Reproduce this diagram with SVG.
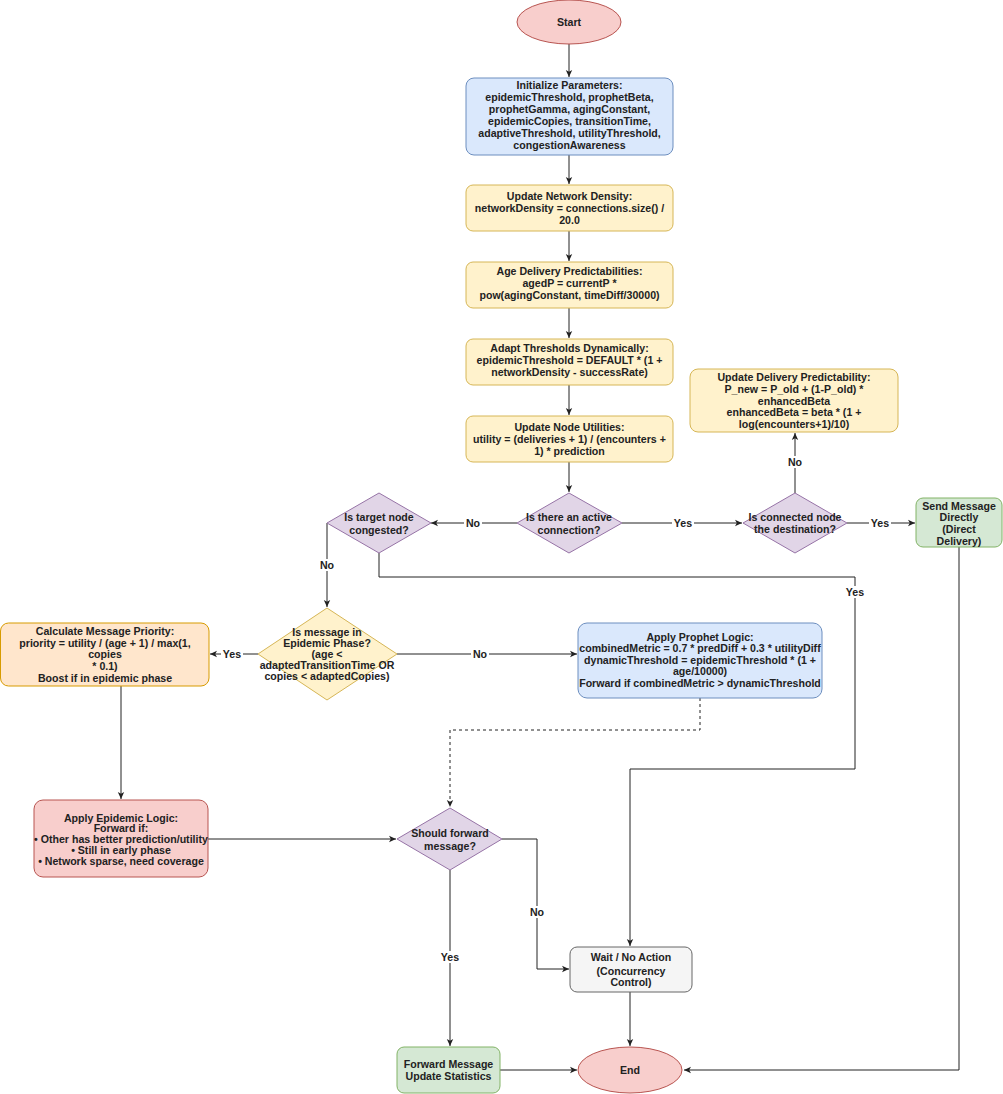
<svg xmlns="http://www.w3.org/2000/svg" width="1003" height="1094" viewBox="0 0 1003 1094">
<style>
text{font-family:"Liberation Sans",Arial,sans-serif;font-size:10.6px;font-weight:bold;fill:#222;text-anchor:middle}
.ln{fill:none;stroke:#222;stroke-width:1}
.dash{stroke-dasharray:3 3}
.blue{fill:#dae8fc;stroke:#6c8ebf}
.yel{fill:#fff2cc;stroke:#d6b656}
.pur{fill:#e1d5e7;stroke:#9673a6}
.org{fill:#ffe6cc;stroke:#d79b00}
.red{fill:#f8cecc;stroke:#b85450}
.grn{fill:#d5e8d4;stroke:#82b366}
.gry{fill:#f5f5f5;stroke:#666666}
.lb{fill:#fff}
</style>
<defs>
<marker id="ar" viewBox="0 0 8 8" refX="7" refY="4" markerWidth="8" markerHeight="8" orient="auto" markerUnits="userSpaceOnUse">
<path d="M0,0.8 L7,4 L0,7.2 L1.8,4 Z" fill="#222"/>
</marker>
</defs>

<g id="connectors">
<path class="ln" d="M569,44 V77" marker-end="url(#ar)"/>
<path class="ln" d="M569,155 V184" marker-end="url(#ar)"/>
<path class="ln" d="M569,231 V261" marker-end="url(#ar)"/>
<path class="ln" d="M569,308 V338" marker-end="url(#ar)"/>
<path class="ln" d="M569,385 V415" marker-end="url(#ar)"/>
<path class="ln" d="M569,462 V492" marker-end="url(#ar)"/>
<path class="ln" d="M517,523 H431" marker-end="url(#ar)"/>
<path class="ln" d="M622,523 H742" marker-end="url(#ar)"/>
<path class="ln" d="M847,523 H915" marker-end="url(#ar)"/>
<path class="ln" d="M795,493 V433" marker-end="url(#ar)"/>
<path class="ln" d="M327,523 V607" marker-end="url(#ar)"/>
<path class="ln" d="M379,553 V577 H855 V769 H630 V946" marker-end="url(#ar)"/>
<path class="ln" d="M959,547 V1070 H684" marker-end="url(#ar)"/>
<path class="ln" d="M258,654 H210" marker-end="url(#ar)"/>
<path class="ln" d="M397,654 H577" marker-end="url(#ar)"/>
<path class="ln" d="M121,686 V799" marker-end="url(#ar)"/>
<path class="ln dash" d="M700,698 V730 H450 V807" marker-end="url(#ar)"/>
<path class="ln" d="M208,839 H396" marker-end="url(#ar)"/>
<path class="ln" d="M502,839 H537 V969 H569" marker-end="url(#ar)"/>
<path class="ln" d="M450,870 V1046" marker-end="url(#ar)"/>
<path class="ln" d="M630,992 V1046" marker-end="url(#ar)"/>
<path class="ln" d="M500,1070 H577" marker-end="url(#ar)"/>
<g id="edge-labels">
<rect class="lb" x="464" y="517" width="18" height="12"/><text x="473" y="527">No</text>
<rect class="lb" x="672" y="517" width="22" height="12"/><text x="683" y="527">Yes</text>
<rect class="lb" x="869" y="517" width="22" height="12"/><text x="880" y="527">Yes</text>
<rect class="lb" x="786" y="456" width="18" height="12"/><text x="795" y="466">No</text>
<rect class="lb" x="318" y="559" width="18" height="12"/><text x="327" y="569">No</text>
<rect class="lb" x="844" y="586" width="22" height="12"/><text x="855" y="596">Yes</text>
<rect class="lb" x="221" y="648" width="22" height="12"/><text x="232" y="658">Yes</text>
<rect class="lb" x="471" y="648" width="18" height="12"/><text x="480" y="658">No</text>
<rect class="lb" x="528" y="906" width="18" height="12"/><text x="537" y="916">No</text>
<rect class="lb" x="439" y="951" width="22" height="12"/><text x="450" y="961">Yes</text>
</g>
</g>

<g id="start"><ellipse class="red" cx="569" cy="22" rx="52" ry="22"/><text x="569" y="26">Start</text></g>

<g id="init"><rect class="blue" x="466" y="78" width="207" height="77" rx="8"/>
<text x="569.5" y="89">Initialize Parameters:</text>
<text x="569.5" y="101">epidemicThreshold, prophetBeta,</text>
<text x="569.5" y="113">prophetGamma, agingConstant,</text>
<text x="569.5" y="125">epidemicCopies, transitionTime,</text>
<text x="569.5" y="137">adaptiveThreshold, utilityThreshold,</text>
<text x="569.5" y="149">congestionAwareness</text></g>

<g id="density"><rect class="yel" x="466" y="185" width="207" height="46" rx="7"/>
<text x="569.5" y="200">Update Network Density:</text>
<text x="569.5" y="212">networkDensity = connections.size() /</text>
<text x="569.5" y="224">20.0</text></g>

<g id="aging"><rect class="yel" x="466" y="262" width="207" height="46" rx="7"/>
<text x="569.5" y="275">Age Delivery Predictabilities:</text>
<text x="569.5" y="287">agedP = currentP *</text>
<text x="569.5" y="299">pow(agingConstant, timeDiff/30000)</text></g>

<g id="adapt"><rect class="yel" x="466" y="339" width="207" height="46" rx="7"/>
<text x="569.5" y="352">Adapt Thresholds Dynamically:</text>
<text x="569.5" y="364">epidemicThreshold = DEFAULT * (1 +</text>
<text x="569.5" y="376">networkDensity - successRate)</text></g>

<g id="utilities"><rect class="yel" x="466" y="416" width="207" height="46" rx="7"/>
<text x="569.5" y="431">Update Node Utilities:</text>
<text x="569.5" y="443">utility = (deliveries + 1) / (encounters +</text>
<text x="569.5" y="455">1) * prediction</text></g>

<g id="active"><polygon class="pur" points="569,493 622,523 569,553 517,523"/>
<text x="569" y="521">Is there an active</text>
<text x="569" y="534">connection?</text></g>

<g id="congested"><polygon class="pur" points="379,493 431,523 379,553 327,523"/>
<text x="379" y="521">Is target node</text>
<text x="379" y="534">congested?</text></g>

<g id="destination"><polygon class="pur" points="795,493 847,523 795,553 743,523"/>
<text x="795" y="521">Is connected node</text>
<text x="795" y="533">the destination?</text></g>

<g id="predictability"><rect class="yel" x="690" y="369" width="208" height="63" rx="8"/>
<text x="794" y="381">Update Delivery Predictability:</text>
<text x="794" y="393">P_new = P_old + (1-P_old) *</text>
<text x="794" y="405">enhancedBeta</text>
<text x="794" y="416">enhancedBeta = beta * (1 +</text>
<text x="794" y="428">log(encounters+1)/10)</text></g>

<g id="send"><rect class="grn" x="916" y="498" width="86" height="49" rx="7"/>
<text x="959" y="510">Send Message</text>
<text x="959" y="521">Directly</text>
<text x="959" y="533">(Direct</text>
<text x="959" y="545">Delivery)</text></g>

<g id="epidemic-phase"><polygon class="yel" points="327,608 397,654 327,700 258,654"/>
<text x="327" y="636">Is message in</text>
<text x="327" y="647">Epidemic Phase?</text>
<text x="327" y="658">(age &lt;</text>
<text x="327" y="669">adaptedTransitionTime OR</text>
<text x="327" y="680">copies &lt; adaptedCopies)</text></g>

<g id="priority"><rect class="org" x="0.5" y="623" width="208.5" height="63" rx="8"/>
<text x="105" y="635">Calculate Message Priority:</text>
<text x="105" y="647">priority = utility / (age + 1) / max(1,</text>
<text x="105" y="658">copies</text>
<text x="105" y="670">* 0.1)</text>
<text x="105" y="682">Boost if in epidemic phase</text></g>

<g id="prophet"><rect class="blue" x="578" y="623" width="244" height="75" rx="9"/>
<text x="700" y="641">Apply Prophet Logic:</text>
<text x="700" y="652">combinedMetric = 0.7 * predDiff + 0.3 * utilityDiff</text>
<text x="700" y="664">dynamicThreshold = epidemicThreshold * (1 +</text>
<text x="700" y="675">age/10000)</text>
<text x="700" y="687">Forward if combinedMetric &gt; dynamicThreshold</text></g>

<g id="epidemic-logic"><rect class="red" x="34" y="800" width="174" height="77" rx="9"/>
<text x="121" y="822">Apply Epidemic Logic:</text>
<text x="121" y="832">Forward if:</text>
<text x="121" y="843">• Other has better prediction/utility</text>
<text x="121" y="854">• Still in early phase</text>
<text x="121" y="865">• Network sparse, need coverage</text></g>

<g id="should-forward"><polygon class="pur" points="450,808 502,839 450,870 397,839"/>
<text x="450" y="837">Should forward</text>
<text x="450" y="850">message?</text></g>

<g id="wait"><rect class="gry" x="570" y="947" width="122" height="45" rx="7"/>
<text x="631" y="961">Wait / No Action</text>
<text x="631" y="975">(Concurrency</text>
<text x="631" y="986">Control)</text></g>

<g id="forward"><rect class="grn" x="397" y="1047" width="103" height="46" rx="7"/>
<text x="448.5" y="1068">Forward Message</text>
<text x="448.5" y="1080">Update Statistics</text></g>

<g id="end"><ellipse class="red" cx="630" cy="1070" rx="52" ry="23"/><text x="630" y="1074">End</text></g>
</svg>
